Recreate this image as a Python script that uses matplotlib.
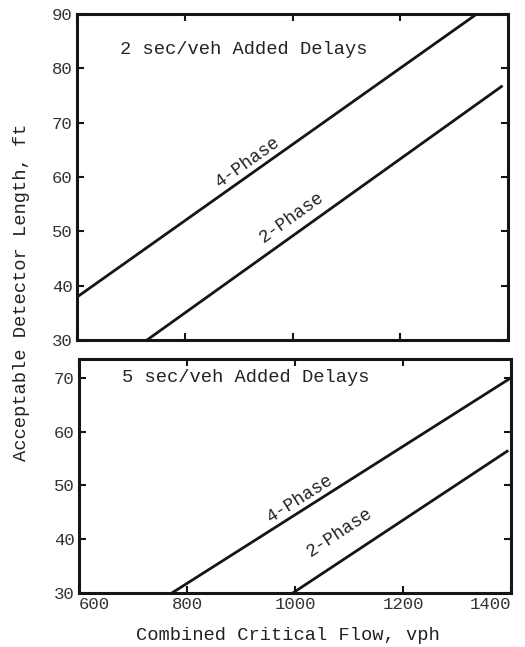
import numpy as np
import matplotlib
matplotlib.use("Agg")
import matplotlib.pyplot as plt

# ---- data ----
flow_4ph_2s = [600, 1342]
len_4ph_2s = [37.9, 90.0]
flow_2ph_2s = [730, 1390]
len_2ph_2s = [30.0, 76.8]

flow_4ph_5s = [772, 1400]
len_4ph_5s = [30.0, 70.0]
flow_2ph_5s = [996, 1395]
len_2ph_5s = [30.0, 56.5]

x_ticks = [600, 800, 1000, 1200, 1400]
y_ticks_top = [30, 40, 50, 60, 70, 80, 90]
y_ticks_bot = [30, 40, 50, 60, 70]
panel_titles = ["2 sec/veh Added Delays", "5 sec/veh Added Delays"]
series_names = ["4-Phase", "2-Phase"]
x_label = "Combined Critical Flow, vph"
y_label = "Acceptable Detector Length, ft"

# label anchor flows and vertical offsets (placement only)
label_flow_top = [925, 1008]
label_off_top = [0.6, 1.6]
label_flow_bot = [1016, 1092]
label_off_bot = [0.6, 3.6]

plt.rcParams['font.family'] = ['Liberation Mono', 'DejaVu Sans Mono']

W, H = 525, 647
fig = plt.figure(figsize=(W / 100, H / 100), dpi=100)
ax1 = fig.add_axes([77 / W, 1 - 340 / H, (508 - 77) / W, (340 - 14) / H])
ax2 = fig.add_axes([79 / W, 1 - 593 / H, (511 - 79) / W, (593 - 359) / H])

ink = '#151515'
txt = '#222222'


def style(ax, yticks, ylim, show_x):
    ax.set_xlim(600, 1400)
    ax.set_ylim(*ylim)
    ax.set_xticks(x_ticks)
    ax.set_yticks(yticks)
    ax.tick_params(direction='in', top=True, right=True, length=5, width=1.5,
                   labelsize=12.5, pad=3, colors=ink, labelcolor='#333333')
    if not show_x:
        ax.tick_params(labelbottom=False)
    for s in ax.spines.values():
        s.set_linewidth(2.2)
        s.set_color(ink)


style(ax1, y_ticks_top, (30, 90), False)
style(ax2, y_ticks_bot, (30, 73.5), True)

series_top = [(flow_4ph_2s, len_4ph_2s), (flow_2ph_2s, len_2ph_2s)]
series_bot = [(flow_4ph_5s, len_4ph_5s), (flow_2ph_5s, len_2ph_5s)]

for ax, series, lflows, loffs in [(ax1, series_top, label_flow_top, label_off_top),
                                  (ax2, series_bot, label_flow_bot, label_off_bot)]:
    for (fx, fy), name, lf, lo in zip(series, series_names, lflows, loffs):
        ax.plot(fx, fy, color=ink, lw=2.0, solid_capstyle='butt')
        slope = (fy[1] - fy[0]) / (fx[1] - fx[0])
        ly = np.interp(lf, fx, fy)
        ax.text(lf, ly + lo, name, rotation=np.degrees(np.arctan(slope)),
                transform_rotates_text=True, rotation_mode='anchor',
                ha='center', va='bottom', fontsize=13, color=txt)

ax1.text(0.10, 0.89, panel_titles[0], transform=ax1.transAxes,
         ha='left', va='center', fontsize=13.5, color=txt)
ax2.text(0.10, 0.92, panel_titles[1], transform=ax2.transAxes,
         ha='left', va='center', fontsize=13.5, color=txt)

labs = ax2.get_xticklabels()
labs[0].set_horizontalalignment('left')
labs[-1].set_horizontalalignment('right')

fig.text(22 / W, 1 - 292 / H, y_label, rotation=90, ha='center', va='center',
         fontsize=13.5, color=txt)
fig.text(288 / W, 1 - 635 / H, x_label, ha='center', va='center',
         fontsize=13.5, color=txt)

fig.savefig('out.png', dpi=100, facecolor='white')
